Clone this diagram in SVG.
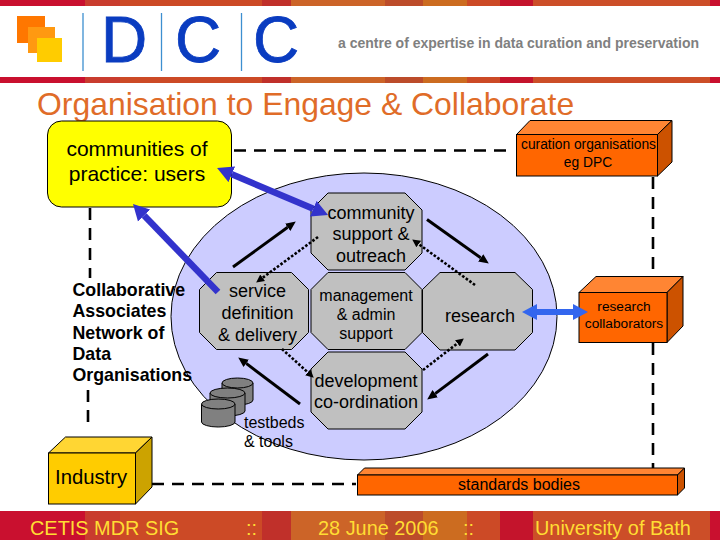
<svg xmlns="http://www.w3.org/2000/svg" width="720" height="540" viewBox="0 0 720 540">
<style>
text{font-family:"Liberation Sans",Arial,sans-serif;fill:#000}
.c{text-anchor:middle}
.oct{fill:#c0c0c0;stroke:#000;stroke-width:1}
.dash{fill:none;stroke:#000;stroke-width:2.6;stroke-dasharray:12 8}
.blk{fill:none;stroke:#000;stroke-width:3;marker-end:url(#hb)}
.dot{fill:none;stroke:#000;stroke-width:2.6;stroke-dasharray:2.6 1.8;marker-end:url(#hd)}
.blue{fill:none;stroke:#3333cc;stroke-width:6.5}
.lb{fill:none;stroke:#3366ee;stroke-width:6;marker-start:url(#hl);marker-end:url(#hl)}
.ln{stroke:#000;stroke-width:1}
.or1{fill:#ff6600}.or2{fill:#ff8533}.or3{fill:#cc5200}
.yl1{fill:#ffcc00}.yl2{fill:#ffd633}.yl3{fill:#cca300}
.cyl{fill:#808080;stroke:#000;stroke-width:1}
.foot{font-size:19.9px;fill:#ffdd33}
.logo{font-size:64px;fill:#0a3cc0;stroke:#0a3cc0;stroke-width:.8}
.vl{stroke:#3d8fd0;stroke-width:1.3}
.l18{font-size:18px}
</style>
<defs>
<marker id="hb" markerUnits="userSpaceOnUse" viewBox="0 -5 10 10" markerWidth="10" markerHeight="10" refX="0" refY="0" orient="auto-start-reverse"><path d="M0,-4.5L10,0L0,4.5z" fill="#000"/></marker>
<marker id="hd" markerUnits="userSpaceOnUse" viewBox="0 -5 8 10" markerWidth="8" markerHeight="10" refX="0" refY="0" orient="auto-start-reverse"><path d="M0,-4L8,0L0,4z" fill="#000"/></marker>
<marker id="hu" markerUnits="userSpaceOnUse" viewBox="0 -9 16 18" markerWidth="16" markerHeight="18" refX="0" refY="0" orient="auto-start-reverse"><path d="M0,-8.500L16,0L0,8.500z" fill="#3333cc"/></marker>
<marker id="hl" markerUnits="userSpaceOnUse" viewBox="0 -9 16 18" markerWidth="16" markerHeight="18" refX="0" refY="0" orient="auto-start-reverse"><path d="M0,-8L15,0L0,8z" fill="#3366ee"/></marker>
<g id="strip">
<rect x="0" y="0" width="85" height="1" fill="#c9102f"/>
<rect x="85" y="0" width="35" height="1" fill="#c93c2e"/>
<rect x="120" y="0" width="142" height="1" fill="#cc4a26"/>
<rect x="262" y="0" width="29" height="1" fill="#c0302a"/>
<rect x="291" y="0" width="94" height="1" fill="#cc6428"/>
<rect x="385" y="0" width="38" height="1" fill="#bc4c2a"/>
<rect x="423" y="0" width="44" height="1" fill="#cc6c20"/>
<rect x="467" y="0" width="33" height="1" fill="#cc4a26"/>
<rect x="500" y="0" width="33" height="1" fill="#c4142c"/>
<rect x="533" y="0" width="177" height="1" fill="#cc4e28"/>
<rect x="710" y="0" width="10" height="1" fill="#c9102f"/>
</g>
</defs>
<rect width="720" height="540" fill="#fff"/>
<g id="header">
<use href="#strip" transform="translate(0,0) scale(1,6)"/>
<use href="#strip" transform="translate(0,77) scale(1,6)"/>
<use href="#strip" transform="translate(0,511) scale(1,29)"/>
<rect x="17" y="16" width="28" height="27" fill="#ff7700"/>
<rect x="28" y="27" width="27" height="26" fill="#ff9911"/>
<rect x="37" y="38" width="25" height="24" fill="#ffcc00"/>
<line class="vl" x1="83" y1="13" x2="83" y2="71"/>
<line class="vl" x1="161.500" y1="13" x2="161.500" y2="71"/>
<line class="vl" x1="241.500" y1="13" x2="241.500" y2="71"/>
<text class="logo" x="101" y="62">D</text>
<text class="logo" x="175" y="62">C</text>
<text class="logo" x="253" y="62">C</text>
<text x="338" y="47.500" font-size="14" font-weight="bold" style="fill:#808080">a centre of expertise in data curation and preservation</text>
<text x="37" y="115" font-size="31.900" style="fill:#e06c28">Organisation to Engage &amp; Collaborate</text>
</g>
<g id="core">
<ellipse cx="364" cy="316.500" rx="193" ry="143.500" fill="#ccccff" stroke="#000" stroke-width="1"/>
</g>
<g id="community-support"><polygon class="oct" points="328,193 405,193 422,210 422,253 405,270 328,270 311,253 311,210"/>
<text class="c l18" x="371" y="219">community</text>
<text class="c l18" x="371" y="240">support &amp;</text>
<text class="c l18" x="371" y="262">outreach</text></g>
<g id="service-definition"><polygon class="oct" points="216.500,272.500 291.500,272.500 308.500,289.500 308.500,332.500 291.500,349.500 216.500,349.500 199.500,332.500 199.500,289.500"/>
<text class="c l18" x="257.500" y="297">service</text>
<text class="c l18" x="257.500" y="319">definition</text>
<text class="c l18" x="257.500" y="341">&amp; delivery</text></g>
<g id="management"><polygon class="oct" points="328,272.500 405,272.500 422,289.500 422,332.500 405,349.500 328,349.500 311,332.500 311,289.500"/>
<text class="c" x="366" y="301" font-size="16">management</text>
<text class="c" x="366" y="320" font-size="16">&amp; admin</text>
<text class="c" x="366" y="339" font-size="16">support</text></g>
<g id="research"><polygon class="oct" points="440,272.500 515,272.500 532.500,289.500 532.500,332.500 515,350 440,350 422.500,332.500 422.500,289.500"/>
<text class="c l18" x="480" y="322">research</text></g>
<g id="development"><polygon class="oct" points="328,352 405,352 422,369 422,412 405,429 328,429 311,412 311,369"/>
<text class="c l18" x="366" y="387">development</text>
<text class="c l18" x="366" y="408">co-ordination</text></g>
<g id="communities">
<rect x="47.500" y="121" width="184" height="86" rx="14" fill="#ffff00" stroke="#000"/>
<text class="c" x="137" y="156" font-size="21">communities of</text>
<text class="c" x="137" y="181" font-size="21">practice: users</text>
</g>
<g id="curation">
<polygon class="or2 ln" points="516.500,134.500 530,120.500 672,120.500 657.500,134.500"/>
<polygon class="or3 ln" points="657.500,134.500 672,120.500 672,162 657.500,176"/>
<rect class="or1 ln" x="516.500" y="134.500" width="141" height="41.500"/>
<text class="c" x="588.500" y="149" font-size="13.800">curation organisations</text>
<text class="c" x="588" y="167" font-size="13.800">eg DPC</text>
</g>
<g id="research-collaborators">
<polygon class="or2 ln" points="579,292.500 596,276.500 683,276.500 667,292.500"/>
<polygon class="or3 ln" points="667,292.500 683,276.500 683,326 667,342.500"/>
<rect class="or1 ln" x="579" y="292.500" width="88" height="50"/>
<text class="c" x="624" y="311" font-size="13.700">research</text>
<text class="c" x="624" y="328" font-size="13.700">collaborators</text>
</g>
<g id="standards">
<polygon class="or2 ln" points="357.500,475 364.500,468 684.500,468 677.500,475"/>
<polygon class="or3 ln" points="677.500,475 684.500,468 684.500,488 677.500,495"/>
<rect class="or1 ln" x="357.500" y="475" width="320" height="20"/>
<text class="c" x="519" y="490" font-size="16">standards bodies</text>
</g>
<g id="industry">
<polygon class="yl2 ln" points="48.500,453 65.500,437 152,437 135.500,453"/>
<polygon class="yl3 ln" points="135.500,453 152,437 152,487 135.500,504"/>
<rect class="yl1 ln" x="48.500" y="453" width="87" height="51"/>
<text x="55" y="484" font-size="20.300">Industry</text>
</g>
<g id="testbeds">
<path class="cyl" d="M222,383a15.500,5 0 0 1 31,0v17a15.500,5 0 0 1 -31,0z"/>
<path class="cyl" fill="none" d="M222,383a15.500,5 0 0 0 31,0"/>
<path class="cyl" d="M210,393a17.500,5 0 0 1 35,0v18a17.500,5 0 0 1 -35,0z"/>
<path class="cyl" fill="none" d="M210,393a17.500,5 0 0 0 35,0"/>
<path class="cyl" d="M201.500,404a16.750,5 0 0 1 33.500,0v18a16.750,5 0 0 1 -33.500,0z"/>
<path class="cyl" fill="none" d="M201.500,404a16.750,5 0 0 0 33.500,0"/>
<text x="244" y="428" font-size="16">testbeds</text>
<text x="244" y="447" font-size="16">&amp; tools</text>
</g>
<g id="collaborative" font-size="17.800" font-weight="bold">
<text x="72.500" y="296">Collaborative</text>
<text x="72.500" y="317">Associates</text>
<text x="72.500" y="339">Network of</text>
<text x="72.500" y="360">Data</text>
<text x="72.500" y="381">Organisations</text>
</g>
<g id="footer">
<text class="foot" x="30" y="534.500">CETIS MDR SIG</text>
<text class="foot" x="246" y="534.500">::</text>
<text class="foot" x="318" y="534.500">28 June 2006</text>
<text class="foot" x="463" y="534.500">::</text>
<text class="foot" x="535" y="534.500">University of Bath</text>
</g>
<g id="connectors">
<path class="dash" d="M234,150.500H510"/>
<path class="dash" d="M90,208V278"/>
<path class="dash" d="M88,390V428"/>
<path class="dash" d="M653,177V277"/>
<path class="dash" d="M653,343V468"/>
<path class="dash" d="M152,484H356"/>
<line class="blk" x1="233" y1="267" x2="287.700" y2="227.300"/>
<line class="blk" x1="427" y1="219.500" x2="480.700" y2="257.800"/>
<line class="blk" x1="488" y1="354" x2="435.200" y2="393.600"/>
<line class="blk" x1="300" y1="404" x2="246.200" y2="363.400"/>
<line class="dot" x1="318" y1="237" x2="262.600" y2="277.800"/>
<line class="dot" x1="475" y1="285" x2="418.700" y2="244.100"/>
<line class="dot" x1="423" y1="370" x2="457.500" y2="343.300"/>
<line class="dot" x1="282" y1="349" x2="307.800" y2="372.300"/>
<line class="blue" x1="231.800" y1="174.300" x2="313.300" y2="208.700" marker-start="url(#hu)" marker-end="url(#hu)"/>
<line class="blue" x1="218" y1="292" x2="144.100" y2="215.500" marker-end="url(#hu)"/>
<line class="lb" x1="537" y1="312" x2="573" y2="312"/>
</g>
</svg>
